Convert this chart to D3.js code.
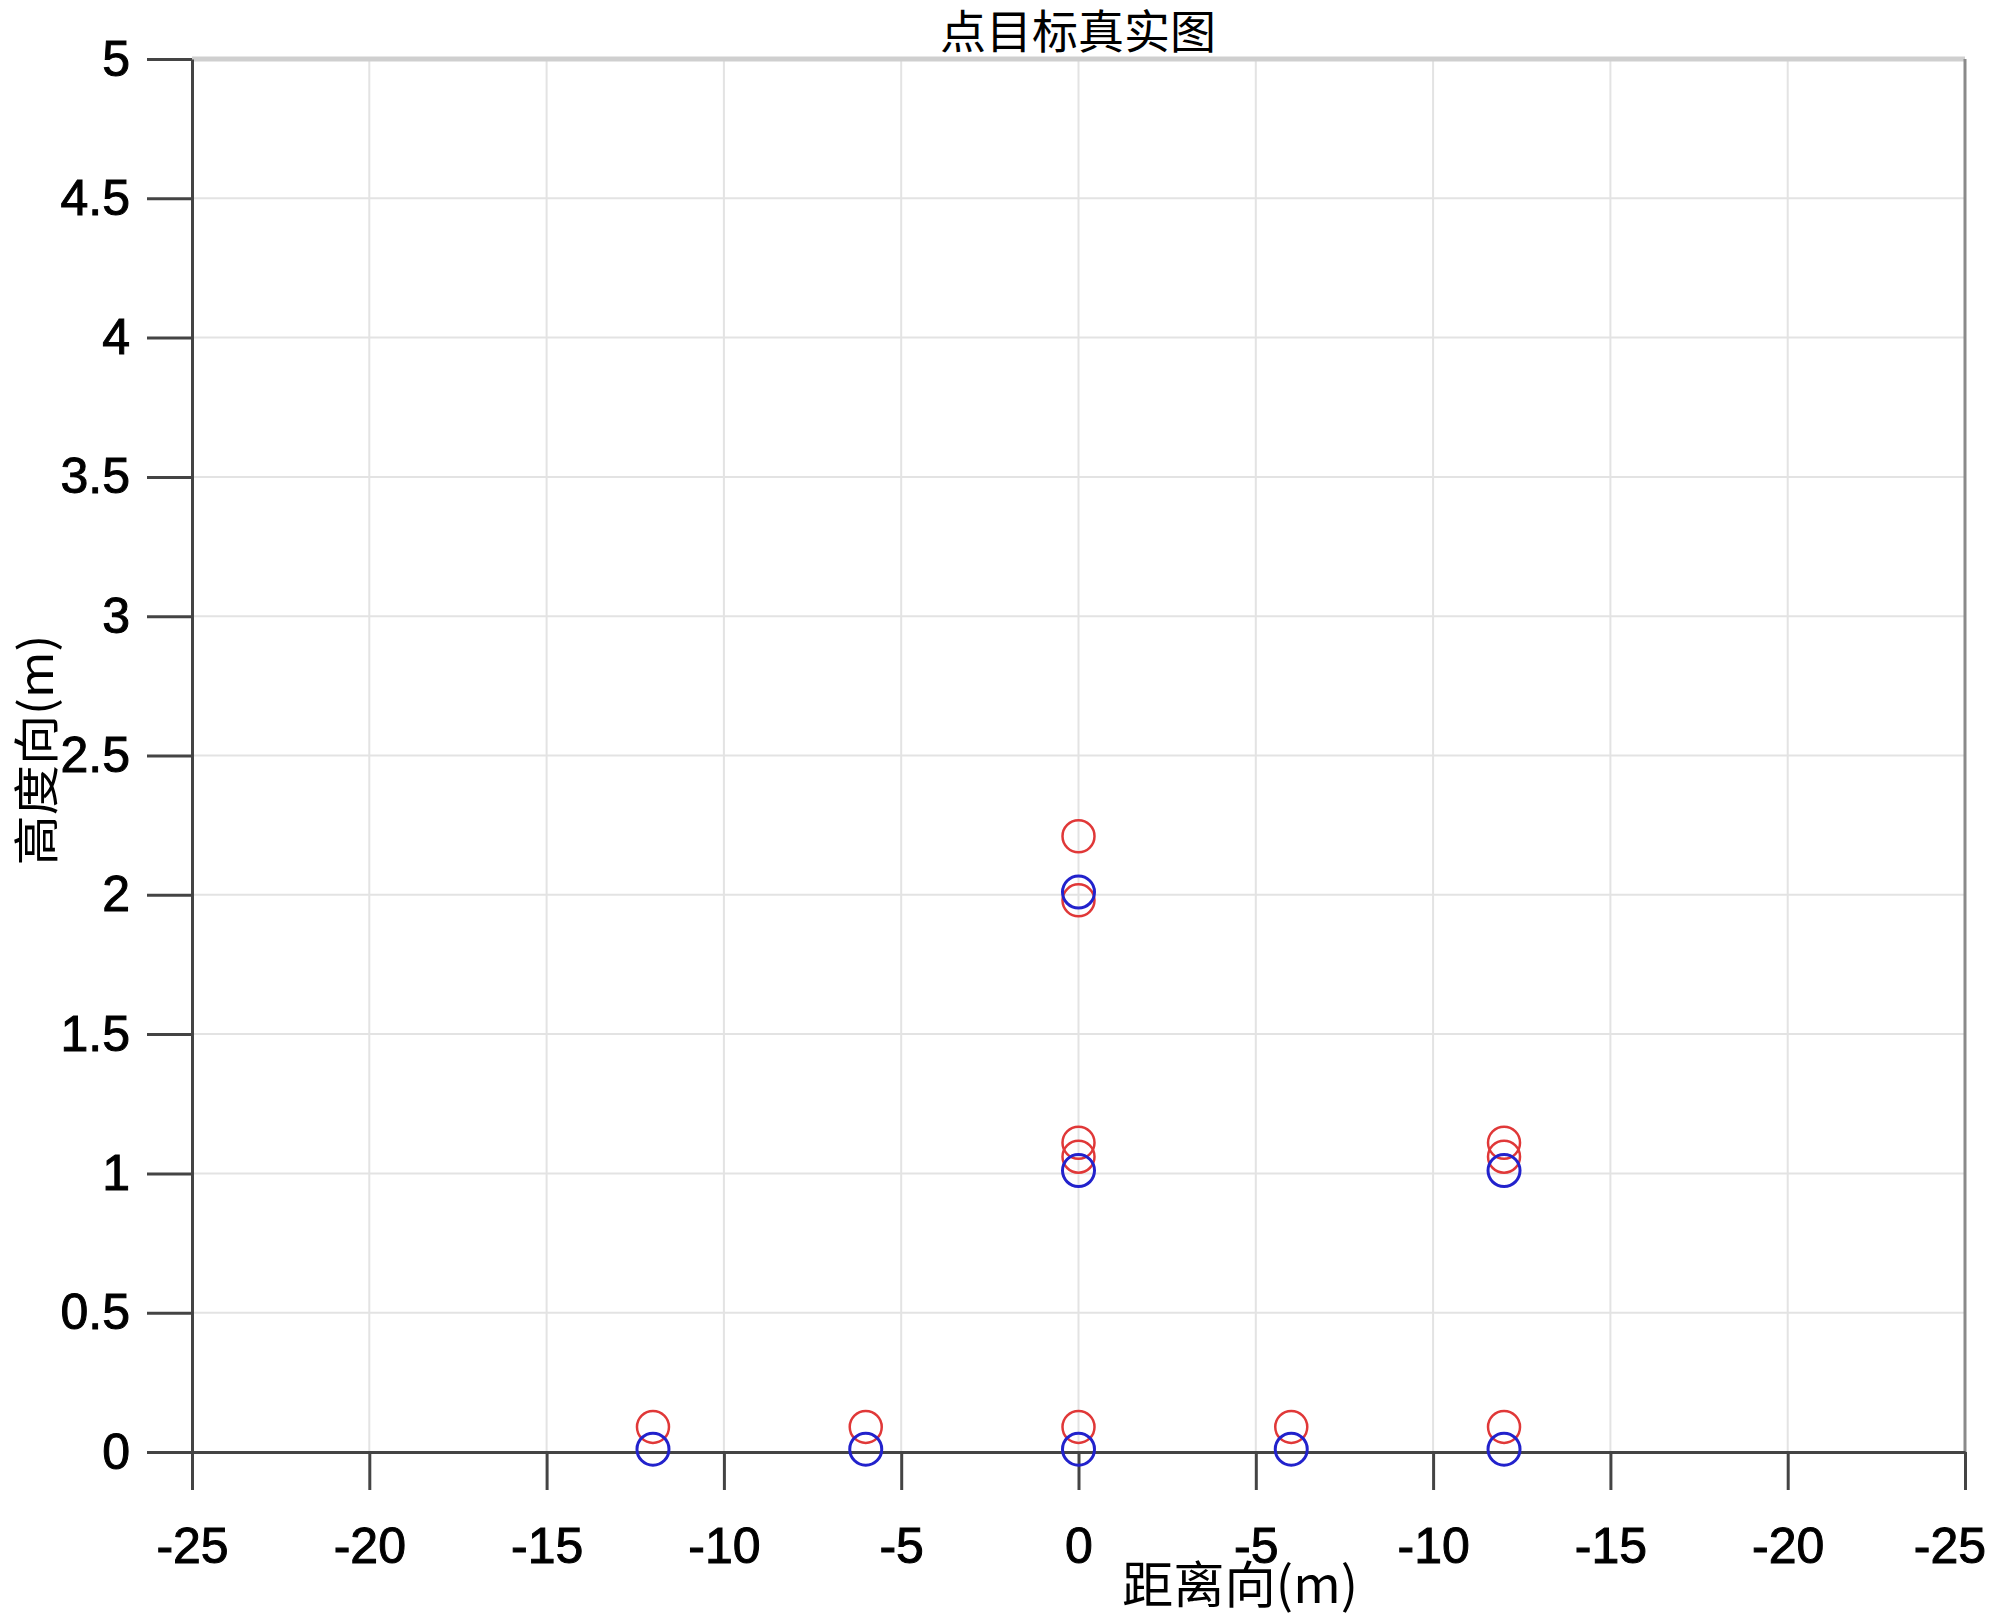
<!DOCTYPE html>
<html>
<head>
<meta charset="utf-8">
<script src="https://cdn.jsdelivr.net/npm/d3@7"></script>
<style>
  html, body { margin: 0; padding: 0; background: #fff; }
  svg { display: block; }
</style>
</head>
<body>
<svg id="chart" width="2000" height="1618"></svg>
<script>
// ---- data ----
const xTickValues = [-25, -20, -15, -10, -5, 0, 5, 10, 15, 20, 25];
const xTickLabels = ["-25", "-20", "-15", "-10", "-5", "0", "-5", "-10", "-15", "-20", "-25"];
const yTickValues = [0, 0.5, 1, 1.5, 2, 2.5, 3, 3.5, 4, 4.5, 5];
const yTickLabels = ["0", "0.5", "1", "1.5", "2", "2.5", "3", "3.5", "4", "4.5", "5"];

const redX = [-12, -6, 0, 6, 12, 0, 0, 0, 0, 12, 12];
const redY = [0.09, 0.09, 0.09, 0.09, 0.09, 2.21, 1.98, 1.11, 1.06, 1.11, 1.06];
const blueX = [-12, -6, 0, 6, 12, 0, 0, 12];
const blueY = [0.01, 0.01, 0.01, 0.01, 0.01, 2.01, 1.01, 1.01];

const titleText = "点目标真实图";
const xLabelText = "距离向(m)";
const yLabelText = "高度向(m)";

(function () {
// ---- layout ----
const W = 2000;
const svg = d3.select("#chart");
const mLeft = 192, mRight = 1965, mTop = 59, mBottom = 1452;
const x = d3.scaleLinear().domain([-25, 25]).range([mLeft, mRight]);
const y = d3.scaleLinear().domain([0, 5]).range([mBottom, mTop]);

// grid
const grid = svg.append("g");
grid.selectAll("line.gx").data(xTickValues).join("line").attr("class", "gx")
  .attr("x1", d => x(d)).attr("x2", d => x(d))
  .attr("y1", mTop).attr("y2", mBottom)
  .attr("stroke", "#e3e3e3").attr("stroke-width", 2);
grid.selectAll("line.gy").data(yTickValues).join("line").attr("class", "gy")
  .attr("y1", d => y(d)).attr("y2", d => y(d))
  .attr("x1", mLeft).attr("x2", mRight)
  .attr("stroke", "#e3e3e3").attr("stroke-width", 2);

// top & right border
svg.append("line").attr("x1", mLeft).attr("x2", mRight).attr("y1", mTop).attr("y2", mTop)
  .attr("stroke", "#cfcfcf").attr("stroke-width", 5);
svg.append("line").attr("x1", mRight).attr("x2", mRight).attr("y1", mTop).attr("y2", mBottom)
  .attr("stroke", "#8a8a8a").attr("stroke-width", 3);

// axes
const fontFam = "'Liberation Sans', Arial, sans-serif";
const xAxis = d3.axisBottom(x).tickValues(xTickValues)
  .tickFormat((d, i) => xTickLabels[i]).tickSizeInner(38).tickSizeOuter(0).tickPadding(37);
const yAxis = d3.axisLeft(y).tickValues(yTickValues)
  .tickFormat((d, i) => yTickLabels[i]).tickSizeInner(45).tickSizeOuter(0).tickPadding(17);

const gx = svg.append("g").attr("transform", `translate(0,${mBottom})`).call(xAxis);
const gy = svg.append("g").attr("transform", `translate(${mLeft},0)`).call(yAxis);
[gx, gy].forEach(g => {
  g.select(".domain").attr("stroke", "#444").attr("stroke-width", 3);
  g.selectAll(".tick line").attr("stroke", "#444").attr("stroke-width", 3);
  g.selectAll(".tick text").attr("fill", "#000")
    .attr("stroke", "#000").attr("stroke-width", 1)
    .style("font-family", fontFam).style("font-size", "50px");
});
// keep the right-most label inside the picture
gx.selectAll(".tick").each(function () {
  const t = d3.select(this).select("text");
  const tr = this.transform.baseVal.consolidate();
  const tx = tr ? tr.matrix.e : 0;
  const bb = t.node().getBBox();
  const rightEdge = tx + bb.x + bb.width;
  if (rightEdge > W - 14) t.attr("x", (W - 14) - rightEdge);
});

// points
svg.append("g").selectAll("circle").data(redX.map((d, i) => [d, redY[i]])).join("circle")
  .attr("cx", d => x(d[0])).attr("cy", d => y(d[1])).attr("r", 16)
  .attr("fill", "none").attr("stroke", "#e03838").attr("stroke-width", 2.5);
svg.append("g").selectAll("circle").data(blueX.map((d, i) => [d, blueY[i]])).join("circle")
  .attr("cx", d => x(d[0])).attr("cy", d => y(d[1])).attr("r", 16)
  .attr("fill", "none").attr("stroke", "#2222cc").attr("stroke-width", 3);

// title
svg.append("text").attr("x", 1078).attr("y", 48).attr("text-anchor", "middle")
  .style("font-family", "'Noto Sans CJK SC', sans-serif").style("font-size", "46px")
  .attr("fill", "#000").text(titleText);

// x label
svg.append("text").attr("x", 1122).attr("y", 1603)
  .attr("textLength", 236).attr("lengthAdjust", "spacingAndGlyphs")
  .style("font-family", "'Noto Sans CJK SC', sans-serif").style("font-size", "50px")
  .attr("fill", "#000").text(xLabelText);

// y label
svg.append("text").attr("transform", "translate(53,750) rotate(-90)")
  .attr("text-anchor", "middle")
  .attr("textLength", 231).attr("lengthAdjust", "spacingAndGlyphs")
  .style("font-family", "'Noto Sans CJK SC', sans-serif").style("font-size", "46px")
  .attr("fill", "#000").text(yLabelText);
})();
</script>
</body>
</html>
